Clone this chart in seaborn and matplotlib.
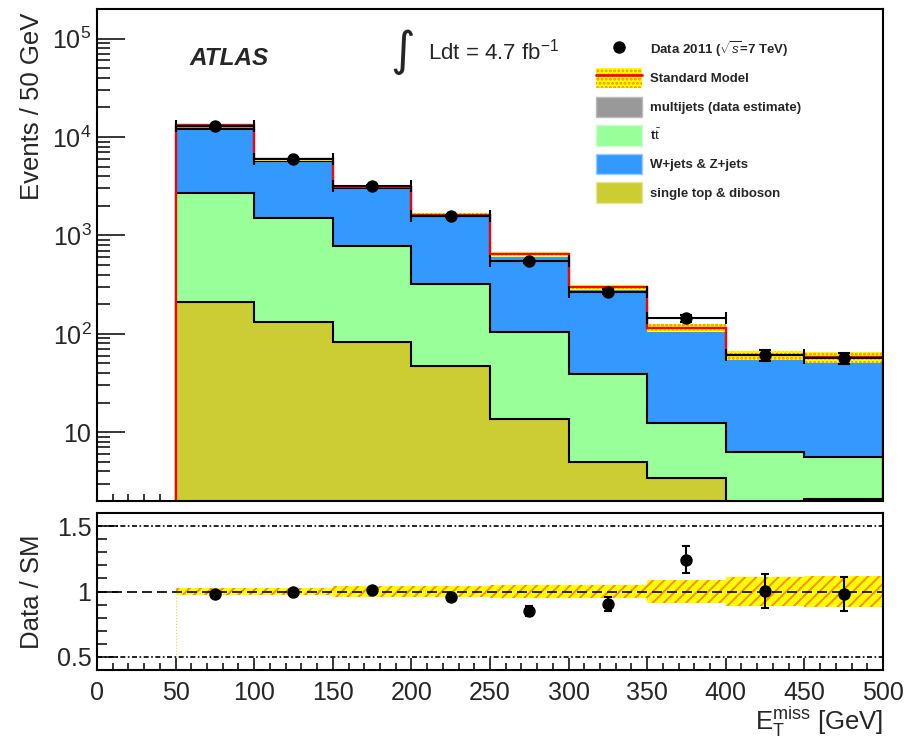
import numpy as np
import matplotlib
matplotlib.use("Agg")
import matplotlib.pyplot as plt
from matplotlib.patches import Patch
from matplotlib.lines import Line2D
from matplotlib.ticker import MultipleLocator, LogLocator, FuncFormatter, NullFormatter, FixedLocator
import seaborn as sns

# E_T^miss binning [GeV]
bin_edges = [50, 100, 150, 200, 250, 300, 350, 400, 450, 500]

# Expected events per bin for each background process
single_top_diboson = [210, 131, 82, 47, 13.5, 5.0, 3.4, 1.5, 2.1]
ttbar = [2460, 1390, 690, 271, 90, 34, 8.9, 4.8, 3.5]
wz_jets = [9330, 4200, 2290, 1270, 528, 253, 102, 54, 52]
multijets = [1100, 200, 80, 40, 10, 4, 1.5, 0.5, 0.5]

# Observed events (2011 data)
data_2011 = [12900, 5920, 3190, 1565, 545, 268, 144, 61, 57]

# Relative uncertainty on the Standard Model expectation
sm_rel_unc = [0.03, 0.03, 0.04, 0.04, 0.05, 0.05, 0.09, 0.11, 0.12]

legend_labels = [r"Data 2011 ($\sqrt{s}$=7 TeV)", "Standard Model",
                 "multijets (data estimate)", r"t$\bar{\mathrm{t}}$",
                 "W+jets & Z+jets", "single top & diboson"]

C_ST = "#cccc33"
C_TT = "#99ff99"
C_WZ = "#3399ff"
C_MJ = "#999999"
C_BAND = "#ffff00"
C_HATCH = "#ff8c00"

sns.set_theme(style="ticks")
plt.rcParams["font.family"] = ["Liberation Sans", "DejaVu Sans"]
plt.rcParams.update({
    "mathtext.fontset": "custom",
    "mathtext.rm": "Liberation Sans",
    "mathtext.it": "Liberation Sans:italic",
    "mathtext.bf": "Liberation Sans:bold",
    "hatch.linewidth": 1.4,
    "axes.edgecolor": "black",
    "axes.linewidth": 1.5,
})

edges = np.array(bin_edges, dtype=float)
centers = 0.5 * (edges[:-1] + edges[1:])
half_w = 0.5 * np.diff(edges)
st = np.array(single_top_diboson)
tt = np.array(ttbar)
wz = np.array(wz_jets)
mj = np.array(multijets)
data = np.array(data_2011, dtype=float)
unc = np.array(sm_rel_unc)

cum_st = st
cum_tt = cum_st + tt
cum_wz = cum_tt + wz
sm = cum_wz + mj

fig = plt.figure(figsize=(9.15, 7.38), dpi=100)
fig.patch.set_facecolor("white")
ax = fig.add_axes([0.106, 0.3211, 0.859, 0.6667])
rax = fig.add_axes([0.106, 0.0921, 0.859, 0.2128])

# ---- main panel: stacked backgrounds ----
for vals, col in [(sm, C_MJ), (cum_wz, C_WZ), (cum_tt, C_TT), (cum_st, C_ST)]:
    ax.stairs(vals, edges, baseline=1e-3, fill=True, facecolor=col,
              edgecolor="black", linewidth=1.5, zorder=2)

ax.stairs(sm * (1 + unc), edges, baseline=sm * (1 - unc), fill=True,
          facecolor=C_BAND, edgecolor=C_HATCH, hatch="....", linewidth=0, zorder=3)
ax.stairs(sm, edges, baseline=1e-3, fill=False, edgecolor="red",
          linewidth=1.6, zorder=3.5)

ax.errorbar(centers, data, xerr=half_w, yerr=np.sqrt(data), fmt="none",
            ecolor="black", elinewidth=1.5, capsize=4, capthick=1.5, zorder=4)
sns.scatterplot(x=centers, y=data, ax=ax, color="black", s=80,
                edgecolor="black", linewidth=0, zorder=5, legend=False)

ax.set_yscale("log")
ax.set_xlim(0, 500)
ax.set_ylim(2, 2e5)
ax.yaxis.set_major_locator(FixedLocator([10, 1e2, 1e3, 1e4, 1e5]))
ax.yaxis.set_minor_locator(LogLocator(base=10, subs=np.arange(2, 10), numticks=20))
ax.yaxis.set_minor_formatter(NullFormatter())


def log_label(v, pos):
    n = int(round(np.log10(v)))
    return "10" if n == 1 else r"$10^{%d}$" % n


ax.yaxis.set_major_formatter(FuncFormatter(log_label))
ax.xaxis.set_major_locator(MultipleLocator(50))
ax.xaxis.set_minor_locator(MultipleLocator(10))
ax.tick_params(axis="x", which="both", direction="in", labelbottom=False, top=False)
ax.tick_params(axis="x", which="major", length=9, width=1.3)
ax.tick_params(axis="x", which="minor", length=5, width=1.3)
ax.tick_params(axis="y", which="both", direction="in", right=False, labelsize=18)
ax.tick_params(axis="y", which="major", length=20, width=1.3, pad=4)
ax.tick_params(axis="y", which="minor", length=9.5, width=1.3)
ax.set_xlabel("")
ax.set_ylabel("Events / 50 GeV", fontsize=18.5, loc="top")
ax.yaxis.set_label_coords(-0.068, 0.992)

ax.text(0.118, 0.90, "ATLAS", transform=ax.transAxes, fontsize=17.5,
        fontweight="bold", style="italic", va="center", ha="left")
ax.text(0.389, 0.913, "\u222b", transform=ax.transAxes, fontsize=34,
        family=["DejaVu Sans"], va="center", ha="center")
ax.text(0.421, 0.913, r"Ldt = 4.7 fb$^{-1}$", transform=ax.transAxes,
        fontsize=16, va="center", ha="left")

handles = [
    Line2D([], [], marker="o", color="black", ls="none", markersize=8),
    (Patch(facecolor=C_BAND, edgecolor=C_HATCH, hatch="....", linewidth=0),
     Line2D([], [], color="red", lw=2)),
    Patch(facecolor=C_MJ, edgecolor="#bbbbbb"),
    Patch(facecolor=C_TT, edgecolor="#ccffcc"),
    Patch(facecolor=C_WZ, edgecolor="#99ccff"),
    Patch(facecolor=C_ST, edgecolor="#e6e699"),
]
ax.legend(handles, legend_labels, loc="upper left", bbox_to_anchor=(0.635, 0.939),
          frameon=False, borderpad=0, borderaxespad=0,
          prop={"weight": "bold", "size": 9.5},
          handlelength=3.5, handleheight=2.0, labelspacing=0.62, handletextpad=0.6)

# ---- ratio panel ----
ratio = data / sm
ratio_err = np.sqrt(data) / sm

rax.stairs(1 + unc, edges, baseline=1 - unc, fill=True, facecolor=C_BAND,
           edgecolor=C_HATCH, hatch="///", linewidth=0, zorder=2)
rax.plot([50, 50], [0.5, 1 - unc[0]], color="#ffcc33", lw=0.8, ls=":", zorder=2)
rax.axhline(1.0, color="black", lw=1.2, ls=(0, (6, 3)), zorder=3)
for yl in (0.5, 1.5):
    rax.axhline(yl, color="black", lw=1.2, ls=(0, (3, 1.5, 1, 1.5)), zorder=3)

rax.errorbar(centers, ratio, yerr=ratio_err, fmt="none", ecolor="black",
             elinewidth=1.5, capsize=3, capthick=1.5, zorder=4)
sns.scatterplot(x=centers, y=ratio, ax=rax, color="black", s=80,
                edgecolor="black", linewidth=0, zorder=5, legend=False)

rax.set_xlim(0, 500)
rax.set_ylim(0.4, 1.6)
rax.yaxis.set_major_locator(FixedLocator([0.5, 1.0, 1.5]))
rax.yaxis.set_major_formatter(FuncFormatter(lambda v, p: "%g" % v))
rax.yaxis.set_minor_locator(MultipleLocator(0.1))
rax.xaxis.set_major_locator(MultipleLocator(50))
rax.xaxis.set_minor_locator(MultipleLocator(10))
rax.tick_params(axis="both", which="both", direction="in", top=False, right=False,
                labelsize=18)
rax.tick_params(axis="x", which="major", length=9, width=1.3, pad=8)
rax.tick_params(axis="x", which="minor", length=5, width=1.3)
rax.tick_params(axis="y", which="major", length=15, width=1.3, pad=4)
rax.tick_params(axis="y", which="minor", length=7, width=1.3)
rax.set_ylabel("Data / SM", fontsize=18.5)
rax.yaxis.set_label_coords(-0.068, 0.5)
rax.set_xlabel(r"$\mathrm{E}_{\mathrm{T}}^{\mathrm{miss}}$ [GeV]", fontsize=18.5, loc="right")
rax.xaxis.set_label_coords(1.0, -0.22)

for a in (ax, rax):
    for s in a.spines.values():
        s.set_visible(True)
        s.set_linewidth(1.5)
        s.set_color("black")
        s.set_zorder(6)

fig.savefig("out.png", dpi=100, facecolor="white")
